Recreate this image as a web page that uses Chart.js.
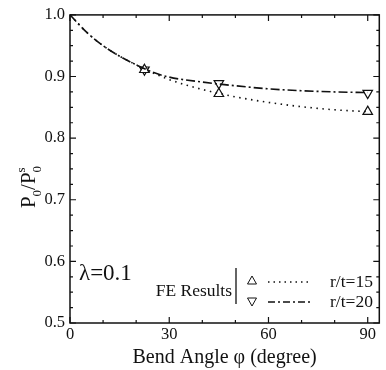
<!DOCTYPE html>
<html>
<head>
<meta charset="utf-8">
<script src="https://cdn.jsdelivr.net/npm/chart.js@4.4.1/dist/chart.umd.min.js"></script>
<style>
  body { margin: 0; background: #fff; }
</style>
</head>
<body>
<canvas id="myChart" width="386" height="370"></canvas>
<script>
// curves
const angleCurve = [0, 5, 10, 15, 20, 25, 30, 40, 50, 60, 70, 80, 90];
const curve15 = [1.0, 0.972, 0.950, 0.933, 0.919, 0.906, 0.895, 0.879, 0.867, 0.858, 0.851, 0.846, 0.843];
const curve20 = [1.0, 0.972, 0.950, 0.933, 0.919, 0.907, 0.899, 0.891, 0.885, 0.880, 0.877, 0.875, 0.874];
// FE results
const angleFE = [22.5, 45, 90];
const fe15 = [0.911, 0.872, 0.843];
const fe20 = [0.911, 0.889, 0.873];

const xTicks = [0, 30, 60, 90];
const yTicks = [0.5, 0.6, 0.7, 0.8, 0.9, 1.0];
const xMinor = [10, 20, 40, 50, 70, 80];
const yMinor = [0.525, 0.55, 0.575, 0.625, 0.65, 0.675, 0.725, 0.75, 0.775, 0.825, 0.85, 0.875, 0.925, 0.95, 0.975];

const serif = "'Liberation Serif', 'DejaVu Serif', serif";
const ink = "#111";

function pts(xs, ys) {
  return xs.map((x, i) => ({ x: x, y: ys[i] }));
}

const frame = {
  id: 'frame',
  afterDraw(chart) {
    const ctx = chart.ctx;
    const a = chart.chartArea;
    const xs = chart.scales.x, ys = chart.scales.y;
    ctx.save();
    ctx.strokeStyle = ink;
    ctx.lineWidth = 1.5;
    ctx.strokeRect(a.left, a.top, a.right - a.left, a.bottom - a.top);

    ctx.lineWidth = 1.2;
    function xt(v, len) {
      const p = xs.getPixelForValue(v);
      ctx.beginPath();
      ctx.moveTo(p, a.bottom); ctx.lineTo(p, a.bottom - len);
      ctx.moveTo(p, a.top); ctx.lineTo(p, a.top + len);
      ctx.stroke();
    }
    function yt(v, len) {
      const p = ys.getPixelForValue(v);
      ctx.beginPath();
      ctx.moveTo(a.left, p); ctx.lineTo(a.left + len, p);
      ctx.moveTo(a.right, p); ctx.lineTo(a.right - len, p);
      ctx.stroke();
    }
    xTicks.forEach(v => xt(v, 6));
    xMinor.forEach(v => xt(v, 3));
    yTicks.forEach(v => yt(v, 6));
    yMinor.forEach(v => yt(v, 3));

    // y axis title P0/P0^s
    ctx.fillStyle = ink;
    ctx.translate(28, 187);
    ctx.rotate(-Math.PI / 2);
    ctx.textBaseline = 'alphabetic';
    ctx.textAlign = 'left';
    const big = "21px " + serif, small = "13px " + serif;
    const parts = [
      ["P", big, 0], ["0", small, 6], ["/P", big, 0], ["0", small, 6], ["s", small, -10]
    ];
    let w = 0;
    parts.forEach((p, i) => {
      ctx.font = p[1];
      if (i !== 4) w += ctx.measureText(p[0]).width;
    });
    let x = -w / 2;
    let lastX = 0;
    parts.forEach((p, i) => {
      ctx.font = p[1];
      const px = i === 4 ? lastX : x;
      ctx.fillText(p[0], px, 7 + p[2]);
      if (i !== 4) { lastX = x; x += ctx.measureText(p[0]).width; }
    });
    ctx.restore();

    // lambda label
    ctx.save();
    ctx.fillStyle = ink;
    ctx.font = "23px " + serif;
    ctx.textBaseline = 'middle';
    ctx.fillText("λ=0.1", 79, 274);

    // legend
    ctx.font = "17.5px " + serif;
    ctx.textAlign = 'right';
    ctx.fillText("FE Results", 232, 291);
    ctx.strokeStyle = ink;
    ctx.lineWidth = 1.3;
    ctx.beginPath();
    ctx.moveTo(236, 268); ctx.lineTo(236, 304);
    ctx.stroke();
    ctx.lineWidth = 1;
    // triangles
    ctx.beginPath();
    ctx.moveTo(252, 276); ctx.lineTo(256.5, 284); ctx.lineTo(247.5, 284); ctx.closePath();
    ctx.stroke();
    ctx.beginPath();
    ctx.moveTo(252, 306); ctx.lineTo(256.5, 298); ctx.lineTo(247.5, 298); ctx.closePath();
    ctx.stroke();
    // line samples
    ctx.lineWidth = 1.3;
    ctx.setLineDash([1.5, 4]);
    ctx.beginPath(); ctx.moveTo(268, 282); ctx.lineTo(311, 282); ctx.stroke();
    ctx.setLineDash([7, 3, 2, 3]);
    ctx.beginPath(); ctx.moveTo(268, 302); ctx.lineTo(311, 302); ctx.stroke();
    ctx.setLineDash([]);
    ctx.textAlign = 'left';
    ctx.fillText("r/t=15", 330, 282);
    ctx.fillText("r/t=20", 330, 302);
    ctx.restore();
  }
};

new Chart("myChart", {
  type: "scatter",
  data: {
    datasets: [
      {
        label: "r/t=15",
        data: pts(angleCurve, curve15),
        showLine: true,
        borderColor: ink,
        borderWidth: 1.6,
        borderDash: [1.5, 4.5],
        pointRadius: 0,
        cubicInterpolationMode: 'monotone'
      },
      {
        label: "r/t=20",
        data: pts(angleCurve, curve20),
        showLine: true,
        borderColor: ink,
        borderWidth: 1.6,
        borderDash: [9, 3, 2, 3],
        pointRadius: 0,
        cubicInterpolationMode: 'monotone'
      },
      {
        label: "FE r/t=15",
        data: pts(angleFE, fe15),
        showLine: false,
        pointStyle: 'triangle',
        pointRadius: 5.5,
        pointBorderWidth: 1.2,
        borderColor: ink,
        backgroundColor: '#fff'
      },
      {
        label: "FE r/t=20",
        data: pts(angleFE, fe20),
        showLine: false,
        pointStyle: 'triangle',
        pointRotation: 180,
        pointRadius: 5.5,
        pointBorderWidth: 1.2,
        borderColor: ink,
        backgroundColor: '#fff'
      }
    ]
  },
  options: {
    responsive: false,
    animation: false,
    devicePixelRatio: 1,
    layout: { padding: { top: 14, right: 1, left: 0, bottom: 0 } },
    plugins: {
      legend: { display: false },
      tooltip: { enabled: false }
    },
    scales: {
      x: {
        type: 'linear',
        min: 0,
        max: 93.5,
        afterBuildTicks: s => { s.ticks = xTicks.map(v => ({ value: v })); },
        afterFit: s => { s.height = 47; },
        grid: { display: false, drawTicks: false },
        border: { display: false },
        ticks: {
          padding: 2,
          color: ink,
          font: { family: serif, size: 16.5 },
          callback: v => String(v)
        },
        title: {
          display: true,
          text: "Bend Angle φ (degree)",
          color: ink,
          font: { family: serif, size: 20 },
          padding: { top: 0, bottom: 0 }
        }
      },
      y: {
        type: 'linear',
        min: 0.5,
        max: 1.0,
        afterBuildTicks: s => { s.ticks = yTicks.map(v => ({ value: v })); },
        afterFit: s => { s.width = 70; },
        grid: { display: false, drawTicks: false },
        border: { display: false },
        ticks: {
          padding: 5,
          color: ink,
          font: { family: serif, size: 16.5 },
          callback: v => v.toFixed(1)
        }
      }
    }
  },
  plugins: [frame]
});
</script>
</body>
</html>
